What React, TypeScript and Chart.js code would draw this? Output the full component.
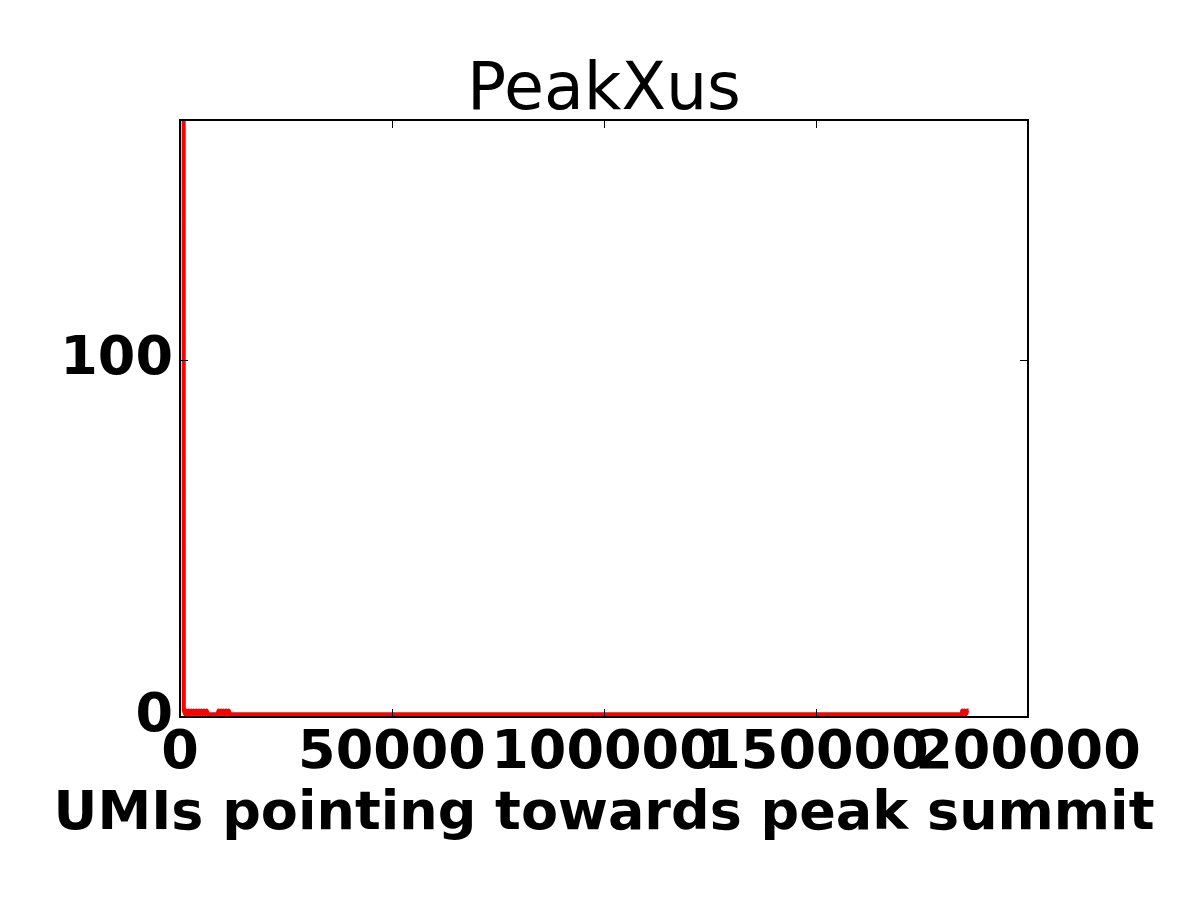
import React, { useEffect, useRef } from "react";
import { Chart, registerables } from "chart.js";

Chart.register(...registerables);

const TITLE = "PeakXus";
const X_LABEL = "UMIs pointing towards peak summit";
const X_TICKS = [0, 50000, 100000, 150000, 200000];
const Y_TICKS = [0, 100];
const X_RANGE = [0, 200000];
const Y_RANGE = [0, 167];

// UMIs pointing towards peak summit (x) and number of peaks (y)
const UMIS = [
  600,
  900, 1200, 1500, 1800, 2100, 2400, 2700, 3000, 3300, 3600,
  3900, 4200, 4500, 4800, 5100, 5400, 5700, 6000, 6300, 6600,
  7500, 8800, 9100, 9400, 9700, 10000, 10300, 10600, 10900, 11200,
  11500, 11800,
  184300, 184500, 184800, 185100, 185400, 185700, 186000,
];
const COUNTS = [
  1500,
  1.8, 0.8, 1.8, 0.8, 1.8, 0.8, 1.8, 0.8, 1.8, 0.8,
  1.8, 0.8, 1.8, 0.8, 1.8, 0.8, 1.8, 0.8, 1.8, 0.8,
  0.8, 0.8, 1.8, 0.8, 1.8, 0.8, 1.8, 0.8, 1.8, 0.8,
  1.8, 0.8,
  0.8, 1.8, 0.8, 1.8, 0.8, 1.8, 1.8,
];

const FONT = "'DejaVu Sans', sans-serif";

const framePlugin = {
  id: "frame",
  afterDraw(chart: any) {
    const { ctx, chartArea, scales } = chart;
    const { left, right, top, bottom } = chartArea;
    const x = scales.x;
    const y = scales.y;
    ctx.save();
    ctx.strokeStyle = "#000";
    ctx.lineWidth = 1;
    ctx.beginPath();
    X_TICKS.forEach((v) => {
      const px = Math.round(x.getPixelForValue(v)) + 0.5;
      ctx.moveTo(px, bottom);
      ctx.lineTo(px, bottom - 8);
      ctx.moveTo(px, top);
      ctx.lineTo(px, top + 8);
    });
    Y_TICKS.forEach((v) => {
      const py = Math.round(y.getPixelForValue(v)) + 0.5;
      ctx.moveTo(left, py);
      ctx.lineTo(left + 8, py);
      ctx.moveTo(right, py);
      ctx.lineTo(right - 8, py);
    });
    ctx.stroke();
    ctx.lineWidth = 2;
    ctx.strokeRect(left, top, right - left, bottom - top);

    // x-axis label (drawn without width compression)
    ctx.fillStyle = "#000";
    ctx.font = `bold 54px ${FONT}`;
    ctx.textAlign = "center";
    ctx.textBaseline = "middle";
    ctx.fillText(X_LABEL, (left + right) / 2, 815);
    ctx.restore();
  },
};

export default function App() {
  const ref = useRef<HTMLCanvasElement | null>(null);

  useEffect(() => {
    if (!ref.current) return;
    const data = UMIS.map((u, i) => ({ x: u, y: COUNTS[i] }));
    const chart = new Chart(ref.current, {
      type: "line",
      data: {
        datasets: [
          {
            data,
            borderColor: "#ff0000",
            backgroundColor: "#ff0000",
            borderWidth: 4,
            borderJoinStyle: "round",
            pointRadius: 0,
            tension: 0,
            fill: false,
            clip: { left: 4, top: 0, right: 4, bottom: 4 },
          },
        ],
      },
      options: {
        responsive: false,
        animation: false,
        devicePixelRatio: 1,
        layout: { padding: { left: 0, right: 172, top: 0, bottom: 0 } },
        plugins: {
          legend: { display: false },
          tooltip: { enabled: false },
          title: {
            display: true,
            text: TITLE,
            color: "#000",
            fullSize: false,
            font: { family: FONT, size: 65, weight: "normal", lineHeight: 1 },
            padding: { top: 60, bottom: -5 },
          },
        },
        scales: {
          x: {
            type: "linear",
            min: X_RANGE[0],
            max: X_RANGE[1],
            afterBuildTicks: (s: any) => {
              s.ticks = X_TICKS.map((v) => ({ value: v }));
            },
            afterFit: (s: any) => {
              s.height = 183;
            },
            grid: { display: false, drawTicks: false },
            border: { display: false },
            ticks: {
              color: "#000",
              padding: 5,
              maxRotation: 0,
              autoSkip: false,
              font: { family: FONT, size: 54, weight: "bold" },
              callback: (v: any) => String(v),
            },
          },
          y: {
            type: "linear",
            min: Y_RANGE[0],
            max: Y_RANGE[1],
            afterBuildTicks: (s: any) => {
              s.ticks = Y_TICKS.map((v) => ({ value: v }));
            },
            afterFit: (s: any) => {
              s.width = 180;
            },
            grid: { display: false, drawTicks: false },
            border: { display: false },
            ticks: {
              color: "#000",
              padding: 7,
              font: { family: FONT, size: 54, weight: "bold" },
              callback: (v: any) => String(v),
            },
          },
        },
      },
      plugins: [framePlugin],
    });
    return () => chart.destroy();
  }, []);

  return (
    <div style={{ position: "fixed", left: 0, top: 0, width: 1200, height: 900, background: "#fff" }}>
      <canvas ref={ref} width={1200} height={900} style={{ width: 1200, height: 900 }} />
    </div>
  );
}
